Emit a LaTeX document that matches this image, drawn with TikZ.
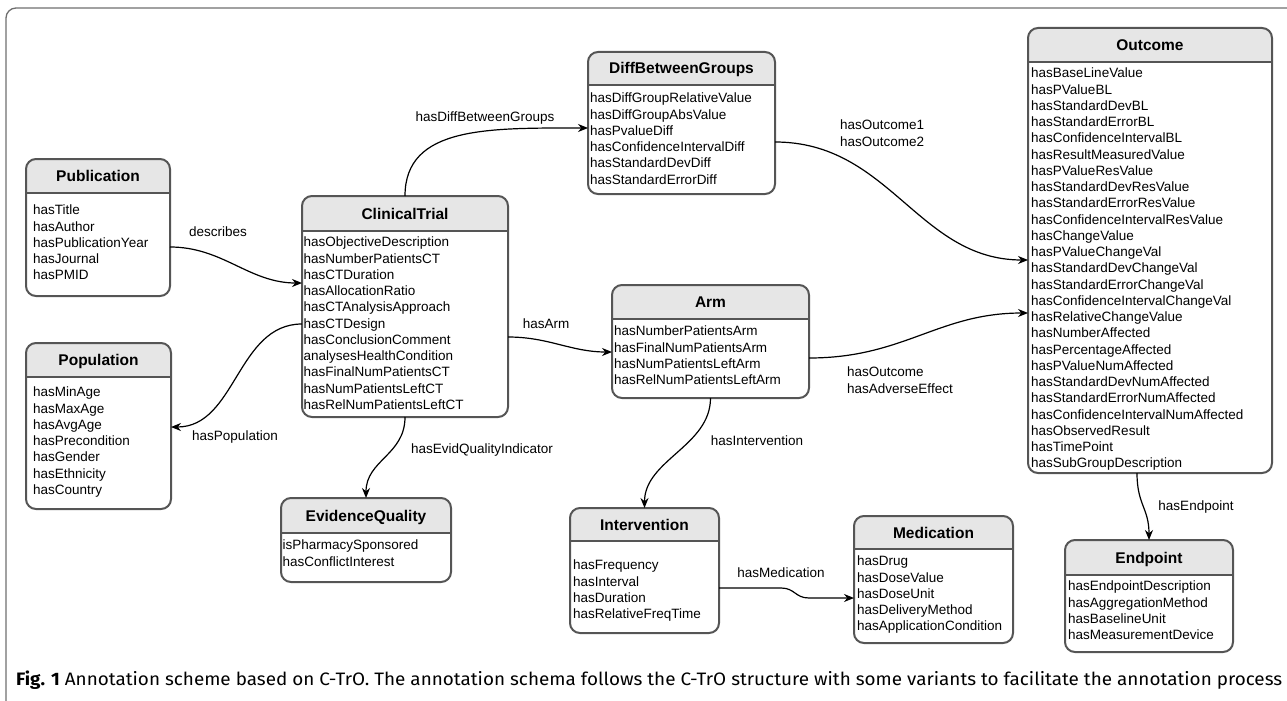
\documentclass[tikz,border=0pt]{standalone}
\usepackage{fontspec}
\usepackage{graphicx}
\setmainfont{Liberation Sans}
\newfontfamily\capfont{Fira Sans}
\usetikzlibrary{arrows.meta,calc}

\definecolor{boxgray}{RGB}{85,85,85}
\definecolor{headgray}{RGB}{230,230,230}
\definecolor{framegray}{RGB}{110,110,110}

\newcommand\bodyfont{\fontsize{13.5}{16.25}\selectfont}
\newcommand\titlefont{\fontsize{15.5}{18}\selectfont\bfseries}

\tikzset{
  boxframe/.style={draw=boxgray, line width=2pt, rounded corners=10pt, inner sep=0pt, outer sep=0pt},
  titletext/.style={font=\titlefont, anchor=base, inner sep=0pt},
  bodytext/.style={font=\bodyfont, anchor=north west, align=left, inner sep=0pt},
  rel/.style={line width=1.2pt, -{Stealth[length=10pt,width=8pt]}},
  rellabel/.style={font=\bodyfont, anchor=base, inner sep=0pt},
  rellabelml/.style={font=\bodyfont, anchor=north west, align=left, inner sep=0pt},
}

% class box: name, left, top, right, header bottom, bottom, title
\newcommand\classbox[7]{%
  \begin{scope}
    \clip (#2,#3) rectangle (#4,#5);
    \fill[headgray, rounded corners=10pt] (#2,#3) rectangle (#4,#6);
  \end{scope}
  \draw[boxgray, line width=2pt] (#2,#5) -- (#4,#5);
  \node[boxframe, anchor=north west, minimum width={#4-#2}, minimum height={#6-#3}] (#1) at (#2,#3) {};
  \node[titletext] (#1-title) at ({(#2+#4)/2},{(#3+#5)/2+5.5}) {#7};
}

\begin{document}
\begin{tikzpicture}[x=1pt,y=-1pt]
\useasboundingbox (0,0) rectangle (1287,701);

% outer frame
\draw[framegray, line width=1.3pt, rounded corners=10pt] (1287,8) -- (6,8) -- (6,701);

% classes
\classbox{pub}{26}{159}{170}{193}{296}{Publication}
\node[bodytext] (pub-body) at (33,205) {hasTitle\\hasAuthor\\hasPublicationYear\\hasJournal\\hasPMID};

\classbox{ct}{302}{196}{508}{231}{417}{ClinicalTrial}
\node[bodytext] (ct-body) at (303.5,237) {hasObjectiveDescription\\hasNumberPatientsCT\\hasCTDuration\\hasAllocationRatio\\hasCTAnalysisApproach\\hasCTDesign\\hasConclusionComment\\analysesHealthCondition\\hasFinalNumPatientsCT\\hasNumPatientsLeftCT\\hasRelNumPatientsLeftCT};

\classbox{dbg}{588}{52}{775}{85}{194}{DiffBetweenGroups}
\node[bodytext] (dbg-body) at (590,93) {hasDiffGroupRelativeValue\\hasDiffGroupAbsValue\\hasPvalueDiff\\hasConfidenceIntervalDiff\\hasStandardDevDiff\\hasStandardErrorDiff};

\classbox{out}{1028}{28}{1272}{62}{473}{Outcome}
\node[bodytext] (out-body) at (1031,68) {hasBaseLineValue\\hasPValueBL\\hasStandardDevBL\\hasStandardErrorBL\\hasConfidenceIntervalBL\\hasResultMeasuredValue\\hasPValueResValue\\hasStandardDevResValue\\hasStandardErrorResValue\\hasConfidenceIntervalResValue\\hasChangeValue\\hasPValueChangeVal\\hasStandardDevChangeVal\\hasStandardErrorChangeVal\\hasConfidenceIntervalChangeVal\\hasRelativeChangeValue\\hasNumberAffected\\hasPercentageAffected\\hasPValueNumAffected\\hasStandardDevNumAffected\\hasStandardErrorNumAffected\\hasConfidenceIntervalNumAffected\\hasObservedResult\\hasTimePoint\\hasSubGroupDescription};

\classbox{pop}{26}{343}{171}{377}{509}{Population}
\node[bodytext] (pop-body) at (33,387) {hasMinAge\\hasMaxAge\\hasAvgAge\\hasPrecondition\\hasGender\\hasEthnicity\\hasCountry};

\classbox{arm}{612}{285}{809}{319}{398}{Arm}
\node[bodytext] (arm-body) at (614,326) {hasNumberPatientsArm\\hasFinalNumPatientsArm\\hasNumPatientsLeftArm\\hasRelNumPatientsLeftArm};

\classbox{eq}{281}{498}{451}{533}{582}{EvidenceQuality}
\node[bodytext] (eq-body) at (282.5,540) {isPharmacySponsored\\hasConflictInterest};

\classbox{interv}{570}{508}{719}{541}{633}{Intervention}
\node[bodytext] (interv-body) at (573,560) {hasFrequency\\hasInterval\\hasDuration\\hasRelativeFreqTime};

\classbox{med}{854}{516}{1013}{549}{643}{Medication}
\node[bodytext] (med-body) at (857,556) {hasDrug\\hasDoseValue\\hasDoseUnit\\hasDeliveryMethod\\hasApplicationCondition};

\classbox{endp}{1065}{540}{1233}{575}{652}{Endpoint}
\node[bodytext] (endp-body) at (1068,581) {hasEndpointDescription\\hasAggregationMethod\\hasBaselineUnit\\hasMeasurementDevice};

% relations
\draw[rel] ($(pub.north east)+(0,88)$) .. controls +(53,0) and +(-53,0) .. ($(ct.north west)+(0,87)$);
\node[rellabel] (l-describes) at (218,236.5) {describes};

\draw[rel] (ct.north) .. controls +(0,-70) and +(-100,0) .. ($(dbg.north west)+(0,76)$);
\node[rellabel] (l-diff) at (485,121.5) {hasDiffBetweenGroups};

\draw[rel] ($(ct.north west)+(0,128)$) .. controls +(-65,0) and +(65,0) .. ($(pop.north east)+(0,84)$);
\node[rellabel] (l-pop) at (235,440.5) {hasPopulation};

\draw[rel] (ct.south) .. controls +(0,38) and +(0,-38) .. (eq.north);
\node[rellabel] (l-evid) at (482,453.5) {hasEvidQualityIndicator};

\draw[rel] ($(ct.north east)+(0,141)$) .. controls +(41,0) and +(-41,0) .. ($(arm.north west)+(0,67)$);
\node[rellabel] (l-arm) at (546,328.5) {hasArm};

\draw[rel] ($(dbg.north east)+(0,90)$) .. controls +(115,0) and +(-110,0) .. ($(out.north west)+(0,232)$);
\node[rellabelml] (l-out12) at (840,120) {hasOutcome1\\hasOutcome2};

\draw[rel] ($(arm.north east)+(0,73)$) .. controls +(95,0) and +(-90,0) .. ($(out.north west)+(0,285)$);
\node[rellabelml] (l-outadv) at (847,367) {hasOutcome\\hasAdverseEffect};

\draw[rel] (arm.south) .. controls +(0,48) and +(0,-48) .. (interv.north);
\node[rellabel] (l-interv) at (757,445.5) {hasIntervention};

\coordinate (mb1) at ($(interv.north east)+(62,80)$);
\coordinate (mb2) at ($(interv.north east)+(90,90)$);
\draw[rel] ($(interv.north east)+(0,80)$) -- (mb1) .. controls +(14,0) and +(-14,0) .. (mb2) -- ($(med.north west)+(0,82)$);
\node[rellabel] (l-med) at (781,577.5) {hasMedication};

\draw[rel] ($(out.south)+(-13,0)$) .. controls +(0,32) and +(0,-32) .. (endp.north);
\node[rellabel] (l-endp) at (1196,510.5) {hasEndpoint};

% caption
\node[anchor=base west, inner sep=0pt] (caption) at (16,685)
  {\resizebox{1266pt}{\height}{\capfont\fontsize{18}{21}\selectfont\textbf{Fig. 1} Annotation scheme based on C-TrO. The annotation schema follows the C-TrO structure with some variants to facilitate the annotation process}};
\end{tikzpicture}
\end{document}
